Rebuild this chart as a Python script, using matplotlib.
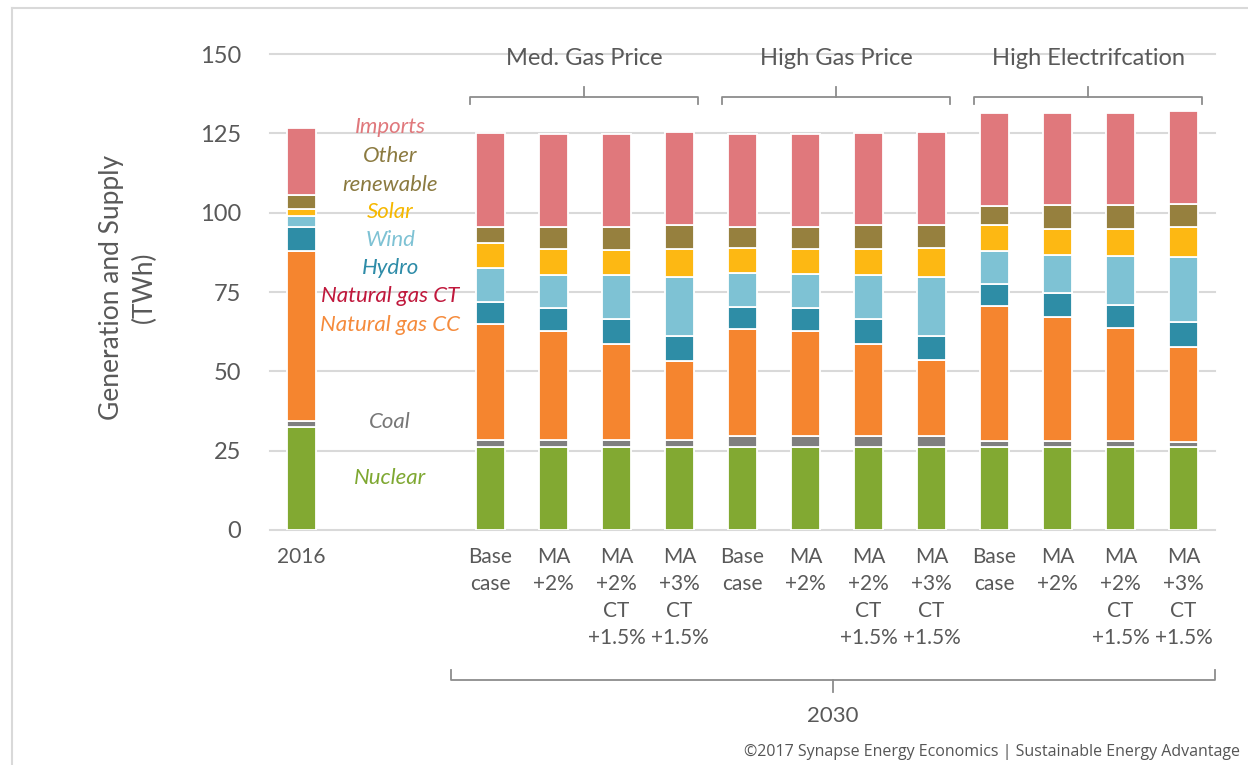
import matplotlib
matplotlib.use("Agg")
import matplotlib.pyplot as plt
from matplotlib.lines import Line2D
import numpy as np

plt.rcParams['font.family'] = ['Lato', 'DejaVu Sans']

# bar slots: 2016 on its own, then three groups of four 2030 cases
positions = [0, 3, 4, 5, 6, 7, 8, 9, 10, 11, 12, 13, 14]
tick_labels = ['2016',
               'Base\ncase', 'MA\n+2%', 'MA\n+2%\nCT\n+1.5%', 'MA\n+3%\nCT\n+1.5%',
               'Base\ncase', 'MA\n+2%', 'MA\n+2%\nCT\n+1.5%', 'MA\n+3%\nCT\n+1.5%',
               'Base\ncase', 'MA\n+2%', 'MA\n+2%\nCT\n+1.5%', 'MA\n+3%\nCT\n+1.5%']
groups = ['Med. Gas Price', 'High Gas Price', 'High Electrifcation']

# TWh per resource, stacked bottom to top
nuclear = [32.5, 26.2, 26.2, 26.2, 26.2, 26.2, 26.2, 26.2, 26.2, 26.2, 26.2, 26.2, 26.2]
coal = [2.0, 2.1, 2.1, 2.1, 2.1, 3.5, 3.5, 3.5, 3.4, 2.0, 2.0, 2.0, 1.6]
gas_cc = [53.5, 36.5, 34.3, 30.4, 24.9, 33.5, 32.9, 29.0, 24.0, 42.3, 38.9, 35.4, 29.8]
gas_ct = [0, 0, 0, 0, 0, 0, 0, 0, 0, 0, 0, 0, 0]
hydro = [7.5, 7.2, 7.4, 7.8, 7.8, 7.2, 7.4, 7.8, 7.4, 7.1, 7.7, 7.2, 8.0]
wind = [3.3, 10.5, 10.5, 13.8, 18.8, 10.6, 10.6, 13.8, 18.8, 10.4, 12.0, 15.6, 20.5]
solar = [2.2, 8.0, 8.0, 7.9, 8.8, 7.9, 8.0, 8.3, 9.1, 8.2, 8.2, 8.5, 9.3]
other_ren = [4.6, 5.0, 7.0, 7.3, 7.6, 6.6, 6.9, 7.4, 7.3, 5.9, 7.3, 7.5, 7.4]
imports = [21.1, 29.5, 29.3, 29.3, 29.2, 29.4, 29.4, 29.2, 29.2, 29.4, 29.2, 29.1, 29.3]

series = [
    ('Nuclear', nuclear, '#82A932'),
    ('Coal', coal, '#7F7F7F'),
    ('Natural gas CC', gas_cc, '#F5852F'),
    ('Natural gas CT', gas_ct, '#C0143C'),
    ('Hydro', hydro, '#2E8DA6'),
    ('Wind', wind, '#7EC2D4'),
    ('Solar', solar, '#FDB813'),
    ('Other renewable', other_ren, '#96803E'),
    ('Imports', imports, '#E0787C'),
]

fig = plt.figure(figsize=(12.48, 7.65), dpi=100)
ax = fig.add_axes([0.2163, 0.3072, 0.7572, 0.6222])

text_col = '#595959'
grid_col = '#D9D9D9'

for yv in [0, 25, 50, 75, 100, 125, 150]:
    ax.axhline(yv, color=grid_col, lw=1.5, zorder=0, clip_on=False)

bottom = np.zeros(len(positions))
for name, vals, col in series:
    vals = np.array(vals, dtype=float)
    ax.bar(positions, vals, bottom=bottom, width=0.47, color=col,
           edgecolor='white', linewidth=1.3, zorder=2)
    bottom += vals

ax.set_xlim(-0.5, 14.5)
ax.set_ylim(0, 150)
for s in ax.spines.values():
    s.set_visible(False)
ax.set_yticks([0, 25, 50, 75, 100, 125, 150])
ax.set_yticklabels(['0', '25', '50', '75', '100', '125', '150'])
ax.set_xticks(positions)
ax.set_xticklabels(tick_labels, linespacing=1.45, va='top')
ax.tick_params(axis='y', length=0, pad=21, labelsize=17, labelcolor=text_col)
ax.tick_params(axis='x', length=0, pad=12, labelsize=15, labelcolor=text_col)

# in-plot legend labels
legend_pos = [
    ('Imports', 127, '#E0787C'),
    ('Other', 117.9, '#8B7A40'),
    ('renewable', 108.7, '#8B7A40'),
    ('Solar', 100.2, '#F6B800'),
    ('Wind', 91.4, '#7EC2D4'),
    ('Hydro', 82.6, '#2E8CA8'),
    ('Natural gas CT', 73.7, '#C0183C'),
    ('Natural gas CC', 64.6, '#F58B3C'),
    ('Coal', 34.0, '#777777'),
    ('Nuclear', 16.4, '#7FA832'),
]
for txt, yv, col in legend_pos:
    ax.text(1.41, yv, txt, color=col, fontsize=16, style='italic',
            ha='center', va='center', zorder=3)

# group brackets above the bars
grp_bar_pos = [positions[1:5], positions[5:9], positions[9:13]]
for g, gp in zip(groups, grp_bar_pos):
    x0, x1 = gp[0] - 0.32, gp[-1] + 0.30
    xc = (x0 + x1) / 2
    ax.plot([x0, x0, x1, x1], [134.3, 136.5, 136.5, 134.3], color='#8C8C8C',
            lw=1.3, clip_on=False)
    ax.plot([xc, xc], [136.5, 139.6], color='#8C8C8C', lw=1.3, clip_on=False)
    ax.text(xc, 148.7, g, ha='center', va='center', fontsize=17,
            color=text_col, zorder=3)

# 2030 bracket below tick labels
bx0, bx1 = 2.37, 14.5
bxc = (bx0 + bx1) / 2
ax.plot([bx0, bx0, bx1, bx1], [-44.1, -47.3, -47.3, -44.1], color='#8C8C8C',
        lw=1.3, clip_on=False)
ax.plot([bxc, bxc], [-47.3, -51.1], color='#8C8C8C', lw=1.3, clip_on=False)
ax.text(bxc, -58.6, '2030', ha='center', va='center', fontsize=16, color=text_col)

fig.text(128 / 1248, 1 - 287 / 765, 'Generation and Supply\n(TWh)', rotation=90,
         ha='center', va='center', multialignment='center', fontsize=19,
         color=text_col, linespacing=1.4)

fig.text(1240 / 1248, 1 - 752 / 765,
         '\u00a92017 Synapse Energy Economics | Sustainable Energy Advantage',
         ha='right', va='center', fontsize=11.5, color='#555555',
         family=['Open Sans', 'DejaVu Sans'])

# thin frame on the left and top edges
fig.add_artist(Line2D([12 / 1248, 12 / 1248], [0, 1 - 8 / 765], color=grid_col,
                      lw=1.5, transform=fig.transFigure))
fig.add_artist(Line2D([12 / 1248, 1], [1 - 8 / 765, 1 - 8 / 765], color=grid_col,
                      lw=1.5, transform=fig.transFigure))

fig.savefig('out.png', dpi=100, facecolor='white')
